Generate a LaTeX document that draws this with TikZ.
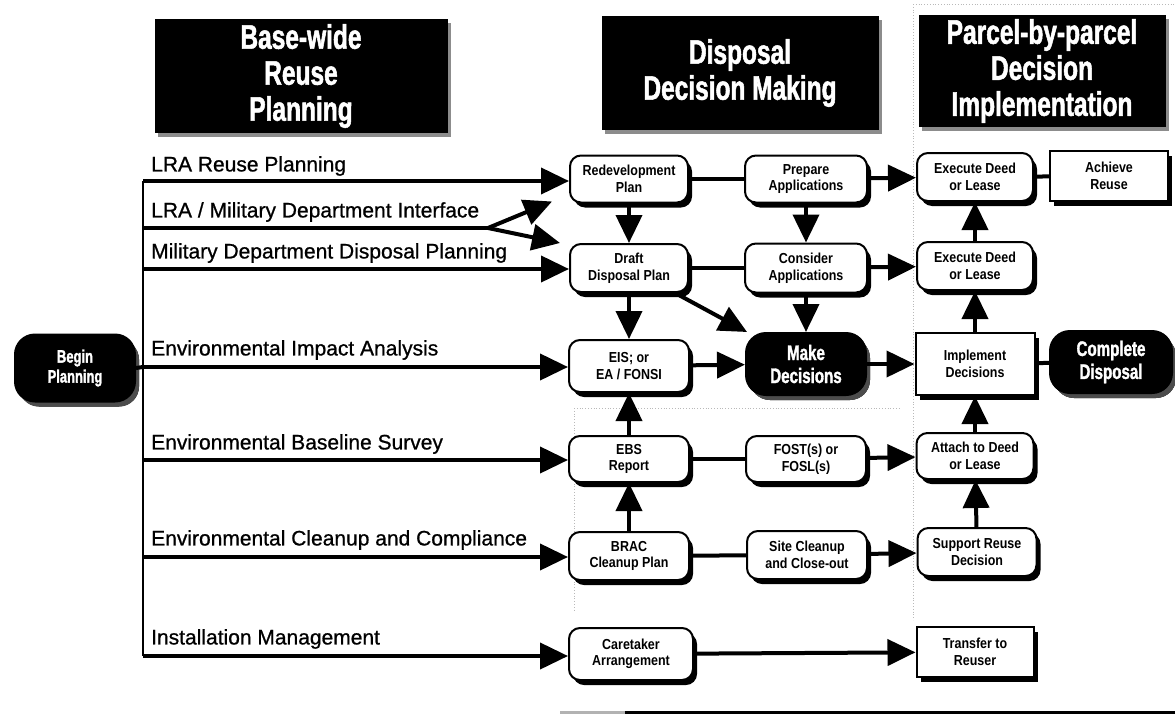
\documentclass[tikz,border=0pt]{standalone}
\usepackage{fontspec}
\setmainfont{Liberation Sans}
\newfontfamily\headfont[FakeStretch=0.72,FakeBold=1.5]{Liberation Sans}
\newfontfamily\boxfont[FakeStretch=0.86]{Liberation Sans}
\newfontfamily\rowfont[FakeBold=0.8]{Liberation Sans}
\usetikzlibrary{arrows.meta,shadows}

\tikzset{
    flow/.style={line width=4pt, -{Triangle[length=28pt,width=26pt]}},
    link/.style={line width=4pt},
    trunk/.style={line width=2.5pt},
    stepbox/.style={draw, line width=2pt, fill=white, rounded corners=11pt,
        align=center, inner sep=2pt, font=\boxfont\bfseries\fontsize{14.5}{16.5}\selectfont,
        drop shadow={shadow xshift=4pt, shadow yshift=-5pt, opacity=1, fill=black}},
    squarebox/.style={stepbox, rounded corners=0pt},
    darkbox/.style={stepbox, fill=black, text=white, rounded corners=20pt,
        font=\headfont\bfseries\fontsize{21}{23}\selectfont,
        drop shadow={shadow xshift=4pt, shadow yshift=-5pt, opacity=1, fill=black!70}},
    headbox/.style={fill=black, text=white, align=center,
        font=\headfont\bfseries\fontsize{34}{36}\selectfont,
        drop shadow={shadow xshift=3pt, shadow yshift=-4pt, opacity=1, fill=black!45}},
    rowlabel/.style={anchor=south west, inner sep=0pt, font=\rowfont\fontsize{21}{23}\selectfont},
    stipple/.style={gray!55, dotted, line width=0.8pt}
}

\begin{document}
\begin{tikzpicture}[x=1pt, y=-1pt]

    \useasboundingbox (0,0) rectangle (1175,715);

    % dotted outlines of the shaded areas
    \draw[stipple] (913,4) -- (1175,4);
    \draw[stipple] (913,4) -- (913,620);
    \draw[stipple] (574,408) -- (900,408);
    \draw[stipple] (574,408) -- (574,612);

    % the three stage headings
    \node[headbox, minimum width=293pt, minimum height=114pt] (headreuse) at (301,76) {Base-wide\\Reuse\\Planning};
    \node[headbox, minimum width=277pt, minimum height=114pt] (headdisposal) at (740,73) {Disposal\\Decision Making};
    \node[headbox, minimum width=247pt, minimum height=112pt] (headparcel) at (1042,71) {Parcel-by-parcel\\Decision\\Implementation};

    % start
    \node[darkbox, minimum width=120pt, minimum height=67pt, font=\headfont\bfseries\fontsize{18}{20}\selectfont] (begin) at (75,368) {Begin\\Planning};

    % planning column
    \node[stepbox, minimum width=118pt, minimum height=47pt] (redev) at (629,179) {Redevelopment\\Plan};
    \node[stepbox, minimum width=118pt, minimum height=48pt] (draft) at (629,268) {Draft\\Disposal Plan};
    \node[stepbox, minimum width=120pt, minimum height=52pt] (eis) at (629,366) {EIS; or\\EA / FONSI};
    \node[stepbox, minimum width=120pt, minimum height=46pt] (ebs) at (629,459) {EBS\\Report};
    \node[stepbox, minimum width=120pt, minimum height=48pt] (brac) at (629,556) {BRAC\\Cleanup Plan};
    \node[stepbox, minimum width=124pt, minimum height=52pt] (care) at (631,654) {Caretaker\\Arrangement};

    % decision column
    \node[stepbox, minimum width=122pt, minimum height=47pt] (prep) at (806,179) {Prepare\\Applications};
    \node[stepbox, minimum width=122pt, minimum height=49pt] (cons) at (806,268) {Consider\\Applications};
    \node[darkbox, minimum width=120pt, minimum height=62pt] (make) at (806,364) {Make\\Decisions};
    \node[stepbox, minimum width=120pt, minimum height=46pt] (fost) at (806,459) {FOST(s) or\\FOSL(s)};
    \node[stepbox, minimum width=120pt, minimum height=48pt] (site) at (807,555) {Site Cleanup\\and Close-out};

    % implementation column
    \node[stepbox, minimum width=116pt, minimum height=48pt] (execa) at (975,177) {Execute Deed\\or Lease};
    \node[stepbox, minimum width=116pt, minimum height=48pt] (execb) at (975,266) {Execute Deed\\or Lease};
    \node[squarebox, minimum width=119pt, minimum height=62pt] (impl) at (975,364) {Implement\\Decisions};
    \node[stepbox, minimum width=117pt, minimum height=46pt] (attach) at (975,456) {Attach to Deed\\or Lease};
    \node[stepbox, minimum width=119pt, minimum height=48pt] (support) at (977,552) {Support Reuse\\Decision};
    \node[squarebox, minimum width=117pt, minimum height=50pt] (transfer) at (975,652) {Transfer to\\Reuser};
    \node[squarebox, minimum width=118pt, minimum height=50pt] (achieve) at (1109,176) {Achieve\\Reuse};
    \node[darkbox, minimum width=122pt, minimum height=62pt] (complete) at (1111,362) {Complete\\Disposal};

    % trunk and row lines
    \coordinate (rowa) at (143,181);
    \coordinate (rowb) at (143,228);
    \coordinate (rowc) at (143,269);
    \coordinate (rowd) at (143,367);
    \coordinate (rowe) at (143,460);
    \coordinate (rowf) at (143,557);
    \coordinate (rowg) at (143,656);
    \coordinate (split) at (488,228);

    \draw[trunk] (rowa) -- (rowg);
    \draw[link] (begin.east) -- (rowd);

    \node[rowlabel] (labela) at (151,176) {LRA Reuse Planning};
    \node[rowlabel] (labelb) at (151,222) {LRA / Military Department Interface};
    \node[rowlabel] (labelc) at (151,263) {Military Department Disposal Planning};
    \node[rowlabel] (labeld) at (151,360) {Environmental Impact Analysis};
    \node[rowlabel] (labele) at (151,454) {Environmental Baseline Survey};
    \node[rowlabel] (labelf) at (151,550) {Environmental Cleanup and Compliance};
    \node[rowlabel] (labelg) at (151,649) {Installation Management};

    \draw[flow] (rowa) -- (rowa -| redev.west);
    \draw[link] (rowb) -- (split);
    \draw[flow] (split) -- ([xshift=-17pt,yshift=2pt]redev.south west);
    \draw[flow] (split) -- ([xshift=-9pt]draft.north west);
    \draw[flow] (rowc) -- (rowc -| draft.west);
    \draw[flow] (rowd) -- (rowd -| eis.west);
    \draw[flow] (rowe) -- (rowe -| ebs.west);
    \draw[flow] (rowf) -- (rowf -| brac.west);
    \draw[flow] (rowg) -- (rowg -| care.west);

    % connectors between the steps
    \draw[flow] (redev) -- (draft);
    \draw[flow] (draft) -- (eis);
    \draw[flow] (draft) -- (make);
    \draw[flow] (ebs) -- (eis);
    \draw[flow] (brac) -- (ebs);
    \draw[link] (redev) -- (prep);
    \draw[link] (draft) -- (cons);
    \draw[link] (ebs) -- (fost);
    \draw[link] (brac) -- (site);
    \draw[flow] (prep) -- (cons);
    \draw[flow] (cons) -- (make);
    \draw[flow] (eis) -- (make);
    \draw[flow] (prep) -- (execa);
    \draw[flow] (cons) -- (execb);
    \draw[flow] (make) -- (impl);
    \draw[flow] (fost) -- (attach);
    \draw[flow] (site) -- (support);
    \draw[flow] (care) -- (transfer);
    \draw[flow] (execb) -- (execa);
    \draw[flow] (impl) -- (execb);
    \draw[flow] (attach) -- (impl);
    \draw[flow] (support) -- (attach);
    \draw[link] (execa) -- (achieve);
    \draw[link] (impl) -- (complete);

    % rule at the foot
    \draw[line width=3pt, gray!60] (560,712) -- (625,712);
    \draw[line width=3pt] (625,712) -- (1175,712);

\end{tikzpicture}
\end{document}
